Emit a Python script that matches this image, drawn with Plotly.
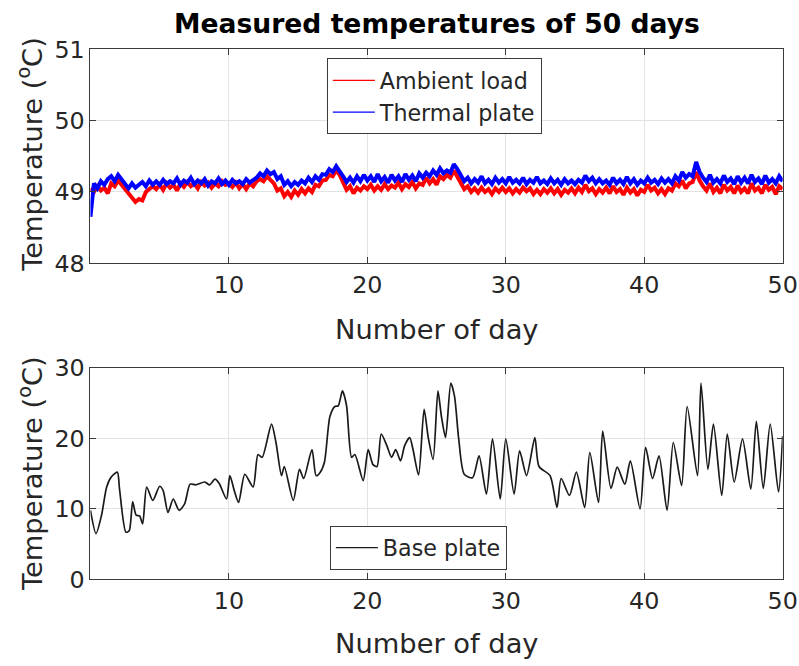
import numpy as np
import plotly.graph_objects as go

# ---------------- data ----------------
# top panel: samples every 0.25 day, day 0 .. 50
top_step = 0.25
thermal_plate = [
    48.65, 49.12, 49.05, 49.15, 49.10, 49.18, 49.22, 49.15, 49.24, 49.17, 49.10, 49.05, 49.12, 49.06, 49.10, 49.14, 49.08, 49.16, 49.10, 49.15,
    49.10, 49.17, 49.11, 49.15, 49.12, 49.19, 49.10, 49.16, 49.13, 49.20, 49.11, 49.16, 49.12, 49.18, 49.09, 49.15, 49.12, 49.19, 49.11, 49.16,
    49.10, 49.17, 49.12, 49.15, 49.11, 49.18, 49.13, 49.16, 49.20, 49.26, 49.22, 49.30, 49.25, 49.28, 49.18, 49.22, 49.10, 49.15, 49.08, 49.14,
    49.10, 49.16, 49.12, 49.20, 49.14, 49.22, 49.17, 49.25, 49.24, 49.32, 49.28, 49.36, 49.30, 49.22, 49.14, 49.20, 49.13, 49.22, 49.15, 49.24,
    49.16, 49.22, 49.14, 49.25, 49.15, 49.21, 49.13, 49.24, 49.16, 49.22, 49.14, 49.25, 49.17, 49.23, 49.15, 49.26, 49.20, 49.27, 49.22, 49.30,
    49.24, 49.33, 49.26, 49.30, 49.27, 49.39, 49.32, 49.24, 49.15, 49.20, 49.12, 49.18, 49.13, 49.22, 49.12, 49.17, 49.11, 49.20, 49.13, 49.18,
    49.12, 49.21, 49.13, 49.17, 49.12, 49.20, 49.11, 49.17, 49.13, 49.21, 49.12, 49.16, 49.11, 49.19, 49.12, 49.17, 49.10, 49.18, 49.12, 49.16,
    49.11, 49.17, 49.13, 49.23, 49.15, 49.20, 49.12, 49.18, 49.12, 49.16, 49.10, 49.20, 49.12, 49.17, 49.11, 49.21, 49.12, 49.18, 49.10, 49.16,
    49.12, 49.20, 49.13, 49.17, 49.11, 49.19, 49.13, 49.18, 49.12, 49.22, 49.16, 49.28, 49.20, 49.25, 49.22, 49.42, 49.28, 49.20, 49.14, 49.24,
    49.13, 49.18, 49.12, 49.23, 49.14, 49.19, 49.11, 49.22, 49.13, 49.20, 49.12, 49.24, 49.14, 49.19, 49.11, 49.23, 49.13, 49.18, 49.12, 49.22,
    49.15,
]
ambient_load = [
    49.05, 49.00, 49.08, 49.02, 49.06, 48.98, 49.12, 49.08, 49.16, 49.10, 49.03, 48.97, 48.92, 48.86, 48.90, 48.88, 49.00, 49.05, 49.08, 49.04,
    49.10, 49.03, 49.12, 49.06, 49.10, 49.02, 49.12, 49.07, 49.14, 49.08, 49.12, 49.05, 49.14, 49.09, 49.13, 49.06, 49.12, 49.08, 49.15, 49.10,
    49.12, 49.07, 49.13, 49.05, 49.11, 49.04, 49.12, 49.08, 49.15, 49.18, 49.15, 49.22, 49.17, 49.12, 49.02, 49.05, 48.94, 49.00, 48.93, 49.02,
    48.96, 49.04, 48.98, 49.05, 49.00, 49.10, 49.08, 49.16, 49.17, 49.24, 49.22, 49.30, 49.24, 49.12, 49.03, 49.08, 48.98, 49.06, 49.02, 49.08,
    49.04, 49.10, 49.02, 49.08, 49.03, 49.11, 49.04, 49.09, 49.06, 49.13, 49.04, 49.11, 49.07, 49.14, 49.05, 49.12, 49.10, 49.20, 49.12, 49.18,
    49.10, 49.22, 49.18, 49.24, 49.20, 49.30, 49.22, 49.14, 49.04, 49.08, 49.00, 49.05, 48.99, 49.06, 49.00, 49.04, 48.97, 49.05, 49.00, 49.06,
    49.00, 49.05, 48.98, 49.04, 48.99, 49.06, 49.01, 49.05, 48.97, 49.03, 48.97, 49.04, 48.99, 49.05, 48.98, 49.04, 48.96, 49.03, 48.99, 49.05,
    48.98, 49.06, 49.00, 49.10, 49.01, 49.05, 48.97, 49.04, 48.99, 49.06, 48.98, 49.08, 49.00, 49.04, 48.96, 49.06, 48.99, 49.04, 48.95, 49.03,
    49.00, 49.10, 49.02, 49.06, 48.98, 49.04, 48.97, 49.05, 49.02, 49.12, 49.08, 49.16, 49.05, 49.12, 49.14, 49.28, 49.16, 49.08, 49.02, 49.12,
    49.00, 49.06, 48.98, 49.10, 49.02, 49.07, 48.98, 49.09, 49.00, 49.05, 48.98, 49.12, 49.02, 49.06, 48.98, 49.10, 49.03, 49.07, 48.97, 49.08,
    49.04,
]

# bottom panel: base plate temperature (day, value) read at turning points
base_day = [
    0.0, 0.4, 0.8, 1.17, 1.5, 1.94, 2.1, 2.56, 2.8, 3.05, 3.3, 3.55, 3.77, 4.06, 4.5, 5.0, 5.25, 5.6, 5.98, 6.4,
    6.8, 7.2, 7.6, 8.27, 8.6, 9.0, 9.3, 9.83, 10.07, 10.4, 10.7, 11.15, 11.75, 12.1, 12.4, 13.08, 13.4, 13.8, 14.0, 14.65,
    15.1, 15.4, 16.0, 16.3, 16.6, 16.9, 17.3, 17.65, 17.9, 18.2, 18.5, 18.86, 19.1, 19.7, 20.06, 20.4, 20.7, 21.0, 21.4, 21.75,
    22.05, 22.4, 22.7, 23.06, 23.3, 23.7, 24.1, 24.4, 24.75, 25.1, 25.35, 25.65, 26.03, 26.3, 26.6, 27.0, 27.6, 28.07, 28.6, 29.04,
    29.6, 30.0, 30.6, 31.0, 31.5, 32.1, 32.4, 33.2, 33.7, 34.0, 34.6, 35.1, 35.7, 36.07, 36.7, 37.0, 37.6, 38.05, 38.6, 39.0,
    39.7, 40.1, 40.6, 41.07, 41.65, 42.1, 42.7, 43.1, 43.85, 44.1, 44.6, 45.0, 45.6, 46.0, 46.5, 47.1, 47.7, 48.1, 48.6, 49.1,
    49.7, 50.0,
]
base_plate = [
    9.8, 6.5, 9.1, 13.1, 14.5, 15.2, 12.8, 6.7, 6.9, 11.0, 9.1, 9.0, 7.9, 13.1, 11.2, 13.2, 12.6, 9.5, 11.4, 9.8,
    10.7, 13.5, 13.4, 13.8, 13.4, 14.2, 13.6, 11.4, 14.7, 12.5, 10.9, 14.9, 13.1, 17.7, 17.3, 22.0, 19.4, 14.7, 16.0, 11.2,
    15.6, 14.3, 18.4, 14.7, 15.2, 16.6, 23.1, 24.5, 24.6, 26.7, 24.6, 17.3, 17.7, 14.0, 18.4, 16.3, 16.0, 20.6, 19.0, 17.3,
    18.4, 16.8, 19.0, 20.1, 18.4, 14.8, 24.1, 20.1, 17.0, 26.7, 23.1, 20.1, 27.8, 25.9, 19.9, 14.9, 14.4, 17.5, 12.1, 19.9,
    11.4, 19.9, 12.1, 18.2, 14.7, 20.1, 16.0, 14.7, 10.2, 14.3, 11.9, 15.2, 10.2, 18.0, 10.9, 21.0, 12.9, 15.9, 13.5, 16.8,
    10.0, 18.7, 14.3, 17.5, 9.8, 19.4, 13.3, 24.5, 14.7, 27.8, 15.6, 22.0, 11.9, 20.6, 13.8, 19.9, 12.8, 22.4, 12.9, 22.0,
    12.4, 20.3,
]

x_ticks = [10, 20, 30, 40, 50]
top_y_ticks = [48, 49, 50, 51]
bottom_y_ticks = [0, 10, 20, 30]

title_text = "Measured temperatures of 50 days"
x_title = "Number of day"
y_title = "Temperature (<sup>o</sup>C)"

# ---------------- figure ----------------
W, H = 814, 678
SX, SY, OY = 0.982, 0.964, 12.4   # page-to-picture mapping observed in earlier renders
FONT = "DejaVu Sans, Verdana, sans-serif"
TXT = "#262626"
AX = "#3a3a3a"
GRID = "#e3e3e3"

top_days = np.arange(len(thermal_plate)) * top_step

fig = go.Figure()
fig.add_trace(go.Scatter(x=top_days, y=ambient_load, mode="lines", name="Ambient load",
                         line=dict(color="#ff0000", width=4), xaxis="x", yaxis="y", showlegend=False))
fig.add_trace(go.Scatter(x=top_days, y=thermal_plate, mode="lines", name="Thermal plate",
                         line=dict(color="#0000ff", width=4), xaxis="x", yaxis="y", showlegend=False))
fig.add_trace(go.Scatter(x=base_day, y=base_plate, mode="lines", name="Base plate",
                         line=dict(color="#1a1a1a", width=1.7, shape="spline", smoothing=0.7),
                         xaxis="x2", yaxis="y2", showlegend=False))
# legend entries (thin sample lines as in the reference)
for nm, col, lg, xa, ya in (("Ambient load", "#ff0000", "legend", "x", "y"),
                            ("Thermal plate", "#0000ff", "legend", "x", "y"),
                            ("Base plate", "#1a1a1a", "legend2", "x2", "y2")):
    fig.add_trace(go.Scatter(x=[None], y=[None], mode="lines", name=nm,
                             line=dict(color=col, width=1.2), xaxis=xa, yaxis=ya, legend=lg))

def px_x(p):
    return (p / SX) / W

def px_y(p):
    return 1 - ((p - OY) / SY) / H

x_dom = [px_x(90.5), px_x(783)]
axis_common = dict(
    showline=True, linecolor=AX, linewidth=1, mirror="ticks",
    ticks="inside", ticklen=6, tickcolor=AX,
    showgrid=True, gridcolor=GRID, gridwidth=1,
    zeroline=False,
    tickfont=dict(family=FONT, size=23.8, color=TXT),
)

fig.update_layout(
    width=W, height=H,
    margin=dict(l=0, r=0, t=0, b=0),
    paper_bgcolor="white", plot_bgcolor="white",
    showlegend=True,
    xaxis=dict(domain=x_dom, range=[0, 50], tickvals=x_ticks, anchor="y", **axis_common),
    yaxis=dict(domain=[px_y(263), px_y(48)], range=[48, 51], tickvals=top_y_ticks, anchor="x", **axis_common),
    xaxis2=dict(domain=x_dom, range=[0, 50], tickvals=x_ticks, anchor="y2", **axis_common),
    yaxis2=dict(domain=[px_y(581), px_y(368)], range=[0, 30], tickvals=bottom_y_ticks, anchor="x2", **axis_common),
    legend=dict(x=px_x(327), y=px_y(57), xanchor="left", yanchor="top",
                bgcolor="white", bordercolor=AX, borderwidth=1,
                font=dict(family=FONT, size=22.2, color=TXT), itemwidth=42, tracegroupgap=0),
    legend2=dict(x=px_x(330), y=px_y(527), xanchor="left", yanchor="top",
                 bgcolor="white", bordercolor=AX, borderwidth=1,
                 font=dict(family=FONT, size=22.2, color=TXT), itemwidth=42),
)

ann = []
ann.append(dict(text="<b>" + title_text + "</b>", x=px_x(437), y=px_y(22), xref="paper", yref="paper",
                showarrow=False, xanchor="center", yanchor="middle",
                font=dict(family=FONT, size=26.6, color="#000000")))
for yc in (330, 645):
    ann.append(dict(text=x_title, x=px_x(437), y=px_y(yc), xref="paper", yref="paper",
                    showarrow=False, xanchor="center", yanchor="middle",
                    font=dict(family=FONT, size=27.3, color=TXT)))
for yc in (153, 474):
    ann.append(dict(text=y_title, x=px_x(30), y=px_y(yc), xref="paper", yref="paper",
                    showarrow=False, xanchor="center", yanchor="middle", textangle=-90,
                    font=dict(family=FONT, size=27.3, color=TXT)))
fig.update_layout(annotations=ann)

fig.write_html("out.html")
